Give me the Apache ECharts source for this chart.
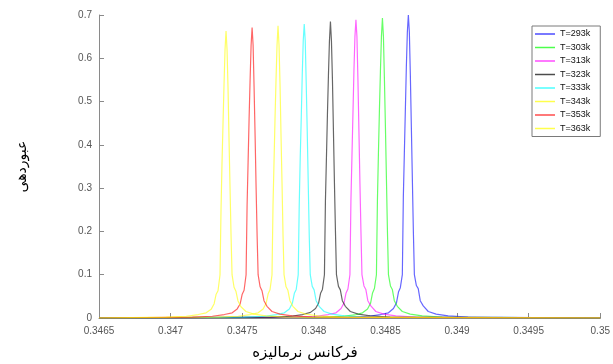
<!DOCTYPE html>
<html>
<head>
<meta charset="utf-8">
<script src="https://cdn.jsdelivr.net/npm/echarts@6/dist/echarts.min.js"></script>
<style>html,body{margin:0;padding:0;background:#fff;}#c{width:613px;height:364px;}</style>
</head>
<body>
<div id="c"></div>
<script>
const seriesNames = ['T=293k','T=303k','T=313k','T=323k','T=333k','T=343k','T=353k','T=363k'];
const xTicks = [0.3465, 0.347, 0.3475, 0.348, 0.3485, 0.349, 0.3495, 0.35];
const yTicks = [0, 0.1, 0.2, 0.3, 0.4, 0.5, 0.6, 0.7];
const xAxisTitle = 'فرکانس نرمالیزه';
const yAxisTitle = 'عبوردهی';

const x293 = [0.3465,0.348243,0.348382,0.348466,0.348521,0.348556,0.348577,0.348591,0.348604,0.348618,0.348625,0.348632,0.348639,0.348646,0.348653,0.34866,0.348667,0.348674,0.348681,0.348688,0.348695,0.348702,0.348716,0.348729,0.348743,0.348764,0.348799,0.348854,0.348938,0.349077,0.35];
const y293 = [0,0.002,0.004,0.008,0.012,0.022,0.035,0.06,0.07,0.1,0.28,0.38,0.48,0.58,0.66,0.70,0.66,0.56,0.44,0.32,0.2,0.1,0.075,0.068,0.04,0.028,0.015,0.009,0.005,0.002,0];

const x303 = [0.3465,0.348062,0.348201,0.348285,0.34834,0.348375,0.348396,0.34841,0.348423,0.348437,0.348444,0.348451,0.348458,0.348465,0.348472,0.348479,0.348486,0.348493,0.3485,0.348507,0.348514,0.348521,0.348535,0.348548,0.348562,0.348583,0.348618,0.348673,0.348757,0.348896,0.35];
const y303 = [0,0.002,0.004,0.007,0.012,0.021,0.034,0.058,0.068,0.1,0.27,0.38,0.48,0.57,0.65,0.693,0.65,0.55,0.44,0.32,0.2,0.1,0.074,0.066,0.04,0.027,0.015,0.009,0.005,0.002,0];

const x313 = [0.3465,0.347877,0.348016,0.3481,0.348155,0.34819,0.348211,0.348225,0.348238,0.348252,0.348259,0.348266,0.348273,0.34828,0.348287,0.348294,0.348301,0.348308,0.348315,0.348322,0.348329,0.348336,0.34835,0.348363,0.348377,0.348398,0.348433,0.348488,0.348572,0.348711,0.35];
const y313 = [0,0.002,0.004,0.008,0.012,0.022,0.035,0.058,0.067,0.1,0.27,0.37,0.47,0.57,0.65,0.689,0.65,0.55,0.43,0.31,0.2,0.1,0.074,0.066,0.04,0.028,0.015,0.009,0.005,0.002,0];

const x323 = [0.3465,0.347699,0.347838,0.347922,0.347977,0.348012,0.348033,0.348047,0.34806,0.348074,0.348081,0.348088,0.348095,0.348102,0.348109,0.348116,0.348123,0.34813,0.348137,0.348144,0.348151,0.348158,0.348172,0.348185,0.348199,0.34822,0.348255,0.34831,0.348394,0.348533,0.35];
const y323 = [0,0.002,0.004,0.008,0.013,0.022,0.034,0.057,0.066,0.1,0.27,0.37,0.47,0.56,0.64,0.685,0.64,0.55,0.43,0.31,0.2,0.1,0.073,0.065,0.04,0.027,0.015,0.009,0.005,0.002,0];

const x333 = [0.3465,0.347516,0.347655,0.347739,0.347794,0.347829,0.34785,0.347864,0.347877,0.347891,0.347898,0.347905,0.347912,0.347919,0.347926,0.347933,0.34794,0.347947,0.347954,0.347961,0.347968,0.347975,0.347989,0.348002,0.348016,0.348037,0.348072,0.348127,0.348211,0.34835,0.35];
const y333 = [0,0.002,0.004,0.008,0.012,0.021,0.034,0.057,0.066,0.1,0.26,0.37,0.46,0.56,0.64,0.679,0.64,0.54,0.43,0.31,0.19,0.1,0.073,0.065,0.04,0.027,0.015,0.009,0.005,0.002,0];

const x343 = [0.3465,0.347333,0.347472,0.347556,0.347611,0.347646,0.347667,0.347681,0.347694,0.347708,0.347715,0.347722,0.347729,0.347736,0.347743,0.34775,0.347757,0.347764,0.347771,0.347778,0.347785,0.347792,0.347806,0.347819,0.347833,0.347854,0.347889,0.347944,0.348028,0.348167,0.35];
const y343 = [0,0.002,0.004,0.008,0.012,0.021,0.034,0.056,0.065,0.1,0.26,0.36,0.46,0.55,0.63,0.675,0.63,0.54,0.42,0.31,0.19,0.1,0.072,0.064,0.04,0.027,0.015,0.009,0.005,0.002,0];

const x353 = [0.3465,0.347152,0.347291,0.347375,0.34743,0.347465,0.347486,0.3475,0.347513,0.347527,0.347534,0.347541,0.347548,0.347555,0.347562,0.347569,0.347576,0.347583,0.34759,0.347597,0.347604,0.347611,0.347625,0.347638,0.347652,0.347673,0.347708,0.347763,0.347847,0.347986,0.35];
const y353 = [0,0.002,0.004,0.008,0.012,0.021,0.033,0.055,0.064,0.1,0.26,0.36,0.46,0.55,0.63,0.671,0.63,0.53,0.42,0.3,0.19,0.1,0.072,0.063,0.04,0.027,0.015,0.009,0.005,0.002,0];

const x363 = [0.3465,0.34697,0.347109,0.347193,0.347248,0.347283,0.347304,0.347318,0.347331,0.347345,0.347352,0.347359,0.347366,0.347373,0.34738,0.347387,0.347394,0.347401,0.347408,0.347415,0.347422,0.347429,0.347443,0.347456,0.34747,0.347491,0.347526,0.347581,0.347665,0.347804,0.35];
const y363 = [0,0.002,0.004,0.008,0.012,0.02,0.033,0.055,0.063,0.1,0.25,0.36,0.45,0.54,0.62,0.663,0.62,0.53,0.41,0.3,0.19,0.1,0.071,0.062,0.04,0.026,0.015,0.009,0.005,0.002,0];

const xs = [x293,x303,x313,x323,x333,x343,x353,x363];
const ys = [y293,y303,y313,y323,y333,y343,y353,y363];
const colors = ['#0000ff','#00ff00','#ff00ff','#000000','#00ffff','#ffff00','#ff0000','#ffff00'];

const chart = echarts.init(document.getElementById('c'), null, {renderer:'canvas'});
const series = seriesNames.map((n,i)=>({
  name:n, type:'line', showSymbol:false, symbol:'none', smooth:false,
  data: xs[i].map((x,k)=>[x, ys[i][k]]),
  lineStyle:{color:colors[i], width:1.2, opacity:0.6},
  itemStyle:{color:colors[i]},
  emphasis:{disabled:true}, animation:false
}));
const fmt = v => String(+(+v).toFixed(4));
chart.setOption({
  animation:false,
  backgroundColor:'#fff',
  grid:{left:99, right:10, top:15, bottom:46, containLabel:false},
  legend:{
    orient:'vertical', left:532, top:26,
    icon:'rect', itemWidth:20, itemHeight:1.5, itemGap:3.5,
    padding:[3,10,3,3],
    borderColor:'#7a7a7a', borderWidth:1, backgroundColor:'#fff',
    textStyle:{fontFamily:'Liberation Sans, Arial', fontSize:9, color:'#111', lineHeight:10},
    data: seriesNames.map((n,i)=>({name:n, itemStyle:{color:colors[i], opacity:0.7}}))
  },
  xAxis:{
    type:'value', min:xTicks[0], max:xTicks[xTicks.length-1], interval:0.0005,
    axisLine:{show:true, onZero:false, lineStyle:{color:'#8a8a8a', width:1}},
    axisTick:{show:true, inside:true, length:5, lineStyle:{color:'#8a8a8a'}},
    axisLabel:{formatter:fmt, color:'#555', fontSize:10, fontFamily:'Liberation Sans, Arial', margin:8},
    splitLine:{show:false}
  },
  yAxis:{
    type:'value', min:yTicks[0], max:yTicks[yTicks.length-1], interval:0.1,
    name:yAxisTitle, nameLocation:'middle', nameRotate:90, nameGap:70,
    nameTextStyle:{fontFamily:'DejaVu Sans', fontSize:14, color:'#000'},
    axisLine:{show:true, lineStyle:{color:'#8a8a8a', width:1}},
    axisTick:{show:true, inside:true, length:5, lineStyle:{color:'#8a8a8a'}},
    axisLabel:{formatter:fmt, color:'#555', fontSize:10, fontFamily:'Liberation Sans, Arial', margin:7},
    splitLine:{show:false}
  },
  graphic:[{
    type:'text', left:null, x:305, y:353,
    style:{text:xAxisTitle, fill:'#000', font:'15px "DejaVu Sans"', align:'center', verticalAlign:'middle'}
  }],
  series: series
});
</script>
</body>
</html>
